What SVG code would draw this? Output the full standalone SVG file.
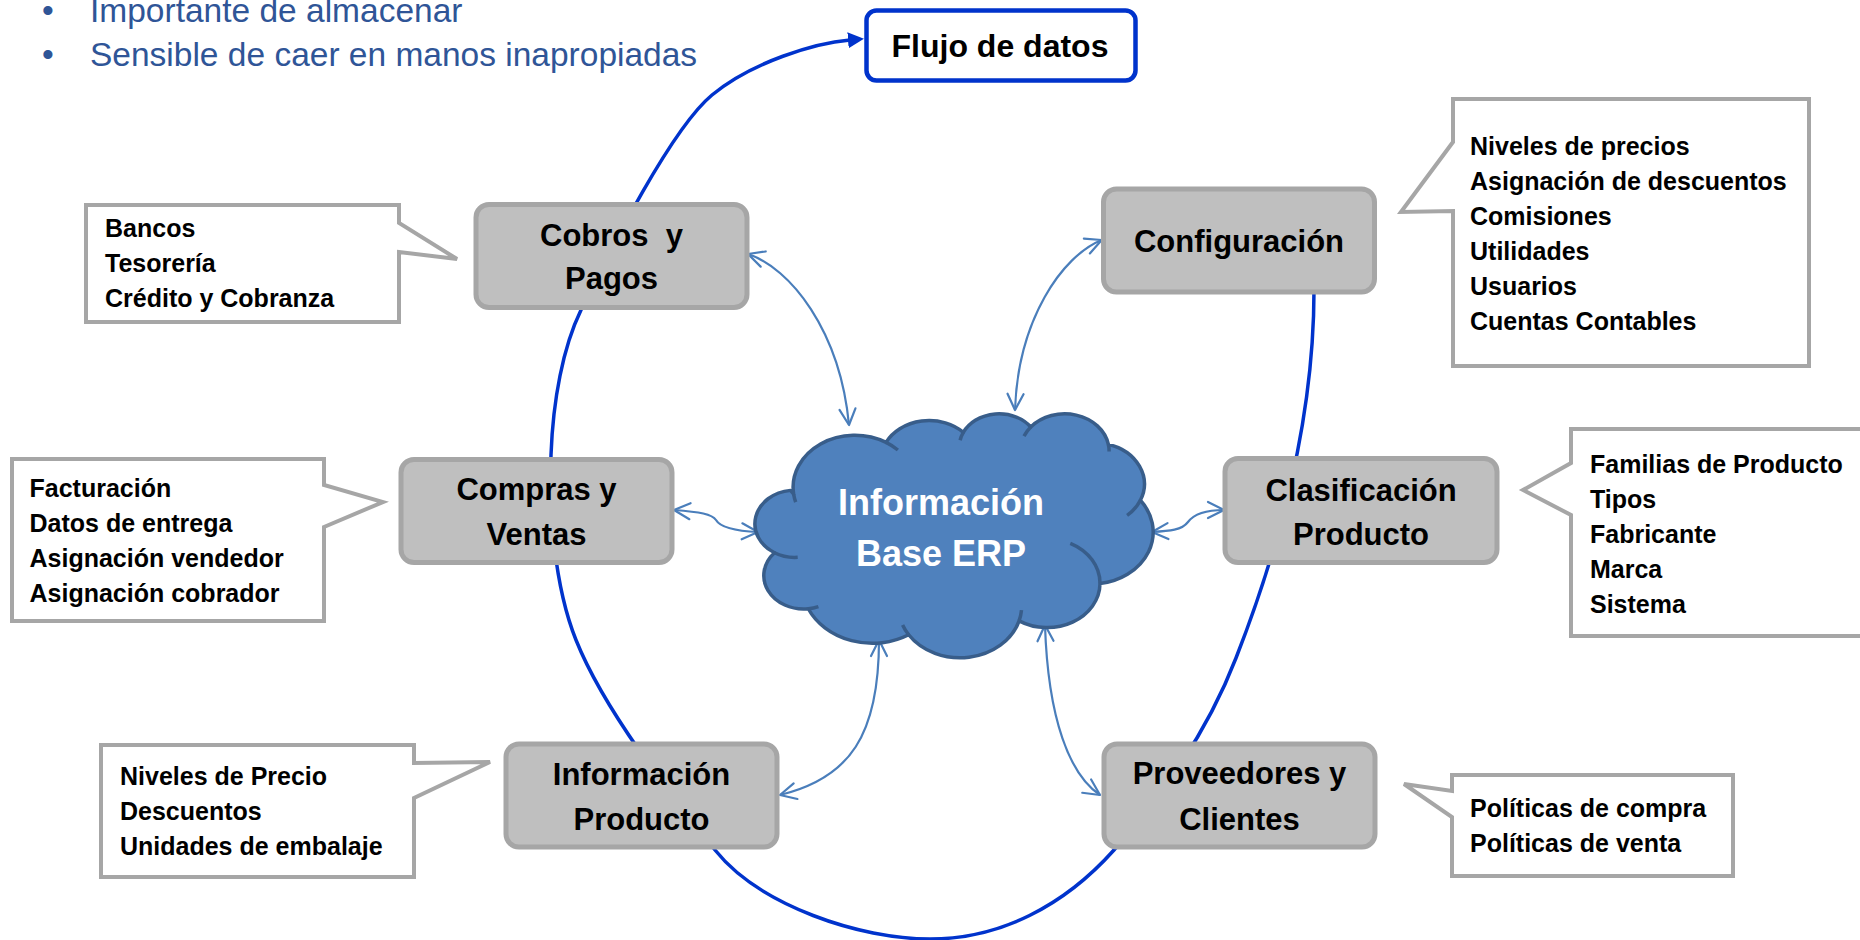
<svg xmlns="http://www.w3.org/2000/svg" width="1860" height="940" viewBox="0 0 1860 940">
<style>
text{font-family:"Liberation Sans",Arial,sans-serif;}
.bul{font-size:33.5px;fill:#2F5597;}
.node rect{fill:#BFBFBF;stroke:#A6A6A6;stroke-width:5;}
.nt{font-size:31px;font-weight:bold;fill:#000;text-anchor:middle;}
.call path{fill:#FFFFFF;stroke:#A6A6A6;stroke-width:4;stroke-linejoin:miter;}
.ct{font-size:25px;font-weight:bold;fill:#000;}
.loop{fill:none;stroke:#0033CC;stroke-width:3.5;}
.lc{fill:none;stroke:#4A7EBB;stroke-width:2.2;marker-start:url(#va);marker-end:url(#va);}
</style>
<defs>
<marker id="va" markerUnits="userSpaceOnUse" markerWidth="22" markerHeight="22" viewBox="0 0 22 22" refX="19" refY="11" orient="auto-start-reverse"><path d="M3,3 L19,11 L3,19" fill="none" stroke="#4A7EBB" stroke-width="2.2" stroke-linecap="round" stroke-linejoin="round"/></marker>
<marker id="fa" markerUnits="userSpaceOnUse" markerWidth="18" markerHeight="18" viewBox="0 0 18 18" refX="2" refY="9" orient="auto"><path d="M0,1 L16,9 L0,17 Z" fill="#0033CC"/></marker>
</defs>
<rect width="1860" height="940" fill="#FFFFFF"/>

<g id="bullets">
<text class="bul" x="42" y="22">•</text>
<text class="bul" x="90" y="22">Importante de almacenar</text>
<text class="bul" x="42" y="66">•</text>
<text class="bul" x="90" y="66">Sensible de caer en manos inapropiadas</text>
</g>

<g id="connectors">
<path class="loop" marker-end="url(#fa)" d="M1314,290 C1314,400 1290,520 1236,658 C1209,728 1164,794 1114,850 C1064,906 1000,939 930,939 C860,939 760,906 715,850 C670,794 604,710 576,640 C554,585 549,510 551,455 C553,400 563,347 581,310 C611,248 672,128 712,95 C752,62 815,43 850,40"/>
<path class="lc" d="M748,254 C790,268 840,330 849,425"/>
<path class="lc" d="M1101.7,240 C1062,256 1018,320 1015,410"/>
<path class="lc" d="M674,510 C700,512 712,514 716,520 C720,527 735,531 758,532"/>
<path class="lc" d="M1152,532 C1170,531 1182,530 1188,522 C1194,514 1205,510 1224,510"/>
<path class="lc" d="M879,640 C879,735 850,778 780,795"/>
<path class="lc" d="M1045,625 C1048,720 1070,775 1100,795"/>
</g>

<g id="flujo">
<rect x="866.5" y="10.5" width="269" height="70" rx="10" fill="#FFFFFF" stroke="#0033CC" stroke-width="4.5"/>
<text x="1000" y="57" font-size="32" font-weight="bold" text-anchor="middle" fill="#000">Flujo de datos</text>
</g>

<g id="cobros" class="node">
<rect x="476" y="204.5" width="271" height="103" rx="13"/>
<text class="nt" x="611.5" y="246" xml:space="preserve">Cobros  y</text>
<text class="nt" x="611.5" y="289">Pagos</text>
</g>
<g id="compras" class="node">
<rect x="401" y="459.5" width="271" height="103" rx="13"/>
<text class="nt" x="536.5" y="500">Compras y</text>
<text class="nt" x="536.5" y="545">Ventas</text>
</g>
<g id="infoproducto" class="node">
<rect x="506" y="744" width="271" height="103" rx="13"/>
<text class="nt" x="641.5" y="785">Información</text>
<text class="nt" x="641.5" y="830">Producto</text>
</g>
<g id="configuracion" class="node">
<rect x="1103.5" y="189" width="271" height="103" rx="13"/>
<text class="nt" x="1239" y="252">Configuración</text>
</g>
<g id="clasificacion" class="node">
<rect x="1225" y="458.5" width="272" height="104" rx="13"/>
<text class="nt" x="1361" y="501">Clasificación</text>
<text class="nt" x="1361" y="545">Producto</text>
</g>
<g id="proveedores" class="node">
<rect x="1104" y="744" width="271" height="103" rx="13"/>
<text class="nt" x="1239.5" y="784">Proveedores y</text>
<text class="nt" x="1239.5" y="830">Clientes</text>
</g>

<g id="cloud">
<path d="M793.66,494.16 A61.75,51.91 0 0 1 886.05,442.38 A48.76,41.05 0 0 1 963.34,432.36 A39.91,33.58 0 0 1 1030.79,426.98 A44.41,37.25 0 0 1 1108.37,444.46 A48.76,41.08 0 0 1 1140.38,500.29 A61.95,52.08 0 0 1 1100,583.54 A52.9,44.43 0 0 1 1019.1,620.88 A61.74,52.05 0 0 1 908.7,634.73 A70.59,59.55 0 0 1 808.29,608.77 A39.87,33.43 0 0 1 774.53,552.75 A39.73,33.58 0 0 1 790.53,490.38 Z" fill="#4F81BD" stroke="#385D8A" stroke-width="3.5" stroke-linejoin="round"/>
<path d="M795.7,502.2 A61.75,51.91 0 0 1 793.66,494.16 M886.05,442.38 A61.75,51.91 0 0 1 897.9,450 M960.1,440.2 A39.91,33.58 0 0 1 963.34,432.36 M1024,436.1 A44.41,37.25 0 0 1 1030.79,426.98 M1108.37,444.46 A44.41,37.25 0 0 1 1109.1,451.6 M1140.38,500.29 A48.76,41.08 0 0 1 1127.1,515.4 M1070.3,543.3 A52.9,44.43 0 0 1 1100,583.54 M1021.5,610.1 A61.74,52.05 0 0 1 1019.1,620.88 M908.7,634.73 A61.74,52.05 0 0 1 902.6,624.9 M818.4,606.6 A39.87,33.43 0 0 1 808.29,608.77 M797.7,557.3 A39.73,33.58 0 0 1 774.53,552.75" fill="none" stroke="#385D8A" stroke-width="3.5"/>
<text x="941" y="515" font-size="36" font-weight="bold" fill="#FFFFFF" text-anchor="middle">Información</text>
<text x="941" y="566" font-size="36" font-weight="bold" fill="#FFFFFF" text-anchor="middle">Base ERP</text>
</g>

<g id="callout-cobros" class="call">
<path d="M86,205 H399 V223 L457,259 L399,252 V322 H86 Z"/>
<text class="ct" x="105" y="237">Bancos</text>
<text class="ct" x="105" y="272">Tesorería</text>
<text class="ct" x="105" y="307">Crédito y Cobranza</text>
</g>
<g id="callout-compras" class="call">
<path d="M12,459 H324 V485 L383,502 L324,527 V621 H12 Z"/>
<text class="ct" x="29.5" y="497">Facturación</text>
<text class="ct" x="29.5" y="532">Datos de entrega</text>
<text class="ct" x="29.5" y="567">Asignación vendedor</text>
<text class="ct" x="29.5" y="602">Asignación cobrador</text>
</g>
<g id="callout-info" class="call">
<path d="M101,745 H414 V763 L490,762 L414,798 V877 H101 Z"/>
<text class="ct" x="120" y="785">Niveles de Precio</text>
<text class="ct" x="120" y="820">Descuentos</text>
<text class="ct" x="120" y="855">Unidades de embalaje</text>
</g>
<g id="callout-config" class="call">
<path d="M1453,99 H1809 V366 H1453 V211 L1401,212 L1453,142 Z"/>
<text class="ct" x="1470" y="155">Niveles de precios</text>
<text class="ct" x="1470" y="190">Asignación de descuentos</text>
<text class="ct" x="1470" y="225">Comisiones</text>
<text class="ct" x="1470" y="260">Utilidades</text>
<text class="ct" x="1470" y="295">Usuarios</text>
<text class="ct" x="1470" y="330">Cuentas Contables</text>
</g>
<g id="callout-clasif" class="call">
<path d="M1571,429 H1875 V636 H1571 V515 L1523,490 L1571,463 Z"/>
<text class="ct" x="1590" y="473">Familias de Producto</text>
<text class="ct" x="1590" y="508">Tipos</text>
<text class="ct" x="1590" y="543">Fabricante</text>
<text class="ct" x="1590" y="578">Marca</text>
<text class="ct" x="1590" y="613">Sistema</text>
</g>
<g id="callout-prov" class="call">
<path d="M1452,775 H1733 V876 H1452 V817 L1404,784 L1452,791 Z"/>
<text class="ct" x="1470" y="817">Políticas de compra</text>
<text class="ct" x="1470" y="852">Políticas de venta</text>
</g>
</svg>
